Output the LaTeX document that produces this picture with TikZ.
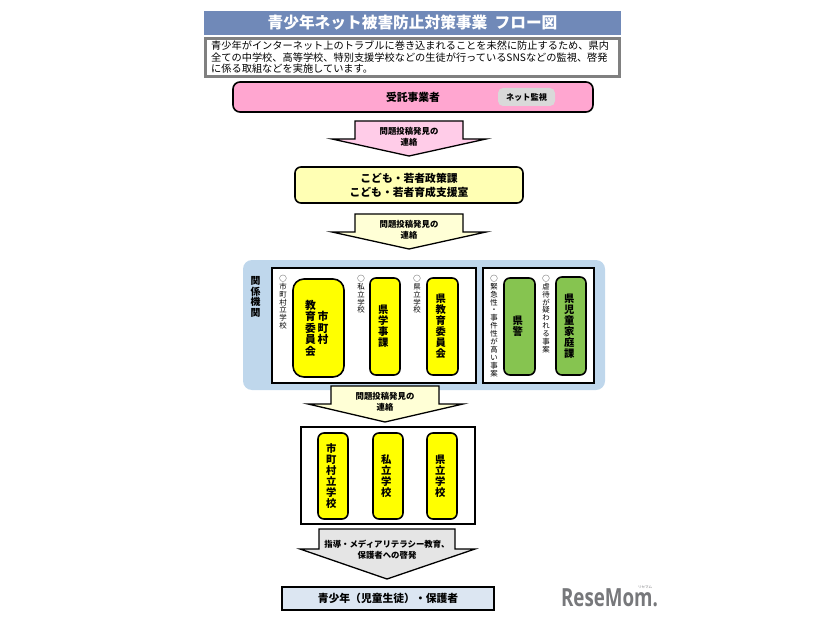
\documentclass[tikz,border=0pt]{standalone}
\usepackage{fontspec}
\setmainfont{Noto Sans CJK JP}
\newfontfamily\logofont[FakeStretch=0.75]{Open Sans}
\definecolor{mTitleBlue}{HTML}{7089B8}
\definecolor{mPink}{HTML}{FFA6D0}
\definecolor{mLightPink}{HTML}{FFCCE8}
\definecolor{mCream}{HTML}{FFFFB4}
\definecolor{mLightCream}{HTML}{FFFFD6}
\definecolor{mPanelBlue}{HTML}{BFD7EC}
\definecolor{mYellow}{HTML}{FFFF00}
\definecolor{mGreen}{HTML}{86C450}
\definecolor{mPaleBlue}{HTML}{DCE6F2}
\definecolor{mLogoGray}{HTML}{77787B}
\newcommand{\tate}[2][11]{$\vcenter{\fontsize{\fpeval{#1*0.94}}{#1}\selectfont\lineskiplimit=-100pt\let\\\cr\halign{\hfil##\hfil\cr #2\crcr}}$}
\tikzset{
  barbox/.style={draw=black,line width=1.6pt,rounded corners=6pt,inner sep=0pt,font=\bfseries,execute at end node=\kern3.5pt},
  framebox/.style={draw=black,line width=1.8pt,fill=white,inner sep=0pt},
  sidelabel/.style={inner sep=0pt,anchor=north},
  arrowlabel/.style={inner sep=0pt,align=center,font=\bfseries\fontsize{8.4}{11}\selectfont},
  blockarrow/.style={draw=black,line width=1.3pt,line join=miter,miter limit=12}
}
\begin{document}
\begin{tikzpicture}[x=1pt,y=-1pt]
  \useasboundingbox (0,0) rectangle (826,620);

  % Header
  \node[fill=mTitleBlue,text=white,minimum width=417,minimum height=24,inner sep=0pt,font=\bfseries\fontsize{15.7}{16}\selectfont] (title) at (412.5,23) {青少年ネット被害防止対策事業\ \ フロー図};
  \node[draw=black!50,line width=2.4pt,fill=white,minimum width=414,minimum height=38,inner sep=0pt] (summary) at (412.5,57.5) {};
  \node[inner sep=0pt,align=left,anchor=west,font=\fontsize{10.2}{11.5}\selectfont] (summarytext) at (211,57.5) {青少年がインターネット上のトラブルに巻き込まれることを未然に防止するため、県内\\全ての中学校、高等学校、特別支援学校などの生徒が行っているSNSなどの監視、啓発\\に係る取組などを実施しています。};

  % Contractor
  \node[draw=black,line width=1.6pt,rounded corners=7pt,fill=mPink,minimum width=360,minimum height=30,inner sep=0pt] (contractor) at (413,97) {};
  \node[inner sep=0pt,font=\bfseries\fontsize{10.8}{12}\selectfont] (contractortext) at (413,97) {受託事業者};
  \node[fill=black!15,rounded corners=5pt,minimum width=57,minimum height=18,inner sep=0pt,font=\bfseries\fontsize{8.2}{10}\selectfont] (monitor) at (526.5,97) {ネット監視};

  \filldraw[blockarrow,fill=mLightPink] (355,121) -- (463,121) -- (463,139) -- (486,139) -- (409,156) -- (332,139) -- (355,139) -- cycle;
  \node[arrowlabel] (reportone) at (409,137) {問題投稿発見の\\連絡};

  % Prefecture office
  \node[draw=black,line width=1.6pt,rounded corners=6pt,fill=mCream,minimum width=228,minimum height=36,inner sep=0pt,align=center,font=\bfseries\fontsize{10.8}{14}\selectfont] (office) at (409,185) {こども・若者政策課\\こども・若者育成支援室};

  \filldraw[blockarrow,fill=mLightCream] (355,214) -- (463,214) -- (463,232) -- (486,232) -- (409,249) -- (332,232) -- (355,232) -- cycle;
  \node[arrowlabel] (reporttwo) at (409,230) {問題投稿発見の\\連絡};

  % Related agencies
  \node[fill=mPanelBlue,rounded corners=9pt,minimum width=362,minimum height=130,inner sep=0pt] (panel) at (424,325) {};
  \node[inner sep=0pt,font=\bfseries] (panellabel) at (255.5,297) {\tate[10.5]{関\\係\\機\\関}};
  \node[framebox,minimum width=204,minimum height=115] (boxleft) at (374,325.5) {};
  \node[framebox,minimum width=111,minimum height=115] (boxright) at (538.5,325.5) {};

  \node[barbox,fill=mYellow,rounded corners=11pt,minimum width=51,minimum height=98] (cityboard) at (318.5,328) {\tate[11.5]{教\\育\\委\\員\\会}\hspace{1.5pt}\tate[11.5]{市\\町\\村}};
  \node[barbox,fill=mYellow,minimum width=30,minimum height=97] (gakuji) at (385,326.5) {\tate{県\\学\\事\\課}};
  \node[barbox,fill=mYellow,minimum width=31,minimum height=97] (prefboard) at (442.5,326.5) {\tate{県\\教\\育\\委\\員\\会}};
  \node[barbox,fill=mGreen,minimum width=31,minimum height=97] (police) at (519.5,326.5) {\tate{県\\警}};
  \node[barbox,fill=mGreen,minimum width=30,minimum height=98] (childcare) at (571,326) {\tate{県\\児\\童\\家\\庭\\課}};

  \node[sidelabel] (labcity) at (283,275) {\tate[7.9]{○\\市\\町\\村\\立\\学\\校}};
  \node[sidelabel] (labprivate) at (361,275) {\tate[7.9]{○\\私\\立\\学\\校}};
  \node[sidelabel] (labpref) at (417,275) {\tate[7.9]{○\\県\\立\\学\\校}};
  \node[sidelabel] (labpolice) at (494,275) {\tate[7.9]{○\\緊\\急\\性\\・\\事\\件\\性\\が\\高\\い\\事\\案}};
  \node[sidelabel] (labchild) at (546,275) {\tate[7.9]{○\\虐\\待\\が\\疑\\わ\\れ\\る\\事\\案}};

  \filldraw[blockarrow,fill=mLightCream] (331,386) -- (439,386) -- (439,404) -- (463,404) -- (385,422) -- (308,404) -- (331,404) -- cycle;
  \node[arrowlabel] (reportthree) at (385,402) {問題投稿発見の\\連絡};

  % Schools
  \node[framebox,minimum width=174,minimum height=97] (schools) at (388,475.5) {};
  \node[barbox,fill=mYellow,minimum width=30,minimum height=86] (cityschool) at (333,476) {\tate{市\\町\\村\\立\\学\\校}};
  \node[barbox,fill=mYellow,minimum width=30,minimum height=86] (privateschool) at (388,476) {\tate{私\\立\\学\\校}};
  \node[barbox,fill=mYellow,minimum width=30,minimum height=86] (prefschool) at (442,476) {\tate{県\\立\\学\\校}};

  \filldraw[blockarrow,fill=black!10] (319,529) -- (455,529) -- (455,549) -- (475,549) -- (387,579) -- (300,549) -- (319,549) -- cycle;
  \node[arrowlabel] (guidance) at (387,550) {指導・メディアリテラシー教育、\\保護者への啓発};

  % Youth and guardians
  \node[draw=black,line width=1.8pt,fill=mPaleBlue,minimum width=212,minimum height=23,inner sep=0pt,font=\bfseries\fontsize{10.8}{12}\selectfont] (youth) at (388,598.5) {青少年（児童生徒）・保護者};

  % Logo
  \node[inner sep=0pt,text=mLogoGray,font=\logofont\bfseries\fontsize{25}{26}\selectfont] (logo) at (609.5,597.5) {ReseMom.};
  \node[inner sep=0pt,text=mLogoGray,font=\fontsize{3.5}{4}\selectfont] (logokana) at (645,587) {リセマム};
\end{tikzpicture}
\end{document}
